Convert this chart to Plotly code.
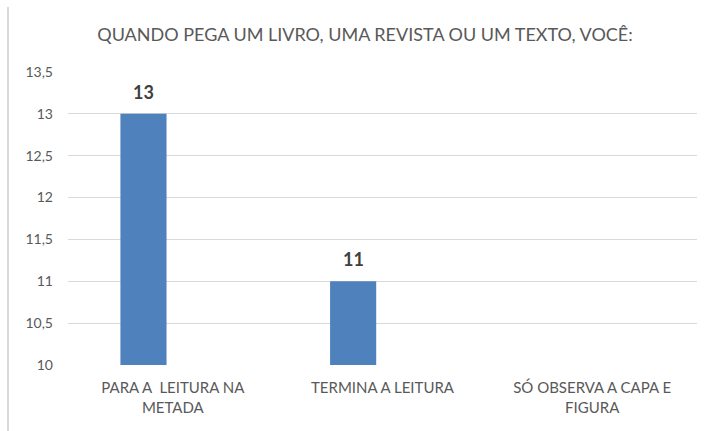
import plotly.graph_objects as go

title = "QUANDO PEGA UM LIVRO, UMA REVISTA OU UM TEXTO, VOCÊ:"
categories = ["PARA A  LEITURA NA METADA", "TERMINA A LEITURA", "SÓ OBSERVA A CAPA E FIGURA"]
category_labels = ["PARA A  LEITURA NA<br>METADA", "TERMINA A LEITURA", "SÓ OBSERVA A CAPA E<br>FIGURA"]
values = [13, 11, 6]
value_labels = ["13", "11", ""]
y_ticks = [10, 10.5, 11, 11.5, 12, 12.5, 13, 13.5]
y_tick_labels = ["10", "10,5", "11", "11,5", "12", "12,5", "13", "13,5"]

FONT = "Lato, Calibri, Carlito, sans-serif"

W, H = 708, 431
l, r, t, b = 68, 11, 72, 66
pw, ph = W - l - r, H - t - b
cat_w = pw / len(categories)

BAR_W = 0.22
BAR_OFF = -0.25

fig = go.Figure(
    go.Bar(
        x=categories,
        y=values,
        marker=dict(color="#4f81bd", line=dict(width=0)),
        width=BAR_W,
        offset=BAR_OFF,
        cliponaxis=True,
        hoverinfo="skip",
    )
)

for c, v, s in zip(categories, values, value_labels):
    if s:
        fig.add_annotation(
            x=c, y=v, text="<b>" + s + "</b>", showarrow=False,
            yanchor="bottom", yshift=9,
            xshift=(BAR_OFF + BAR_W / 2) * cat_w,
            font=dict(family=FONT, size=18, color="#404040"),
        )

bx = (8 - l) / pw
by = (H - b - 7) / ph
border = dict(color="#d9d9d9", width=2)

fig.update_layout(
    width=W,
    height=H,
    margin=dict(l=l, r=r, t=t, b=b, autoexpand=False),
    paper_bgcolor="white",
    plot_bgcolor="white",
    showlegend=False,
    separators=",.",
    font=dict(family=FONT, color="#595959"),
    title=dict(
        text=title,
        x=365 / W,
        xanchor="center",
        y=1 - 35 / H,
        yanchor="middle",
        font=dict(family=FONT, size=18, color="#595959"),
    ),
    xaxis=dict(
        tickmode="array",
        tickvals=categories,
        ticktext=category_labels,
        tickfont=dict(family=FONT, size=15, color="#595959"),
        showgrid=False,
        showline=False,
        ticks="",
        ticklabelstandoff=12,
        automargin=False,
        fixedrange=True,
    ),
    yaxis=dict(
        range=[10, 13.5],
        tickmode="array",
        tickvals=y_ticks,
        ticktext=y_tick_labels,
        tickfont=dict(family=FONT, size=14, color="#595959"),
        showgrid=True,
        gridcolor="#d9d9d9",
        gridwidth=1,
        zeroline=False,
        showline=False,
        ticks="",
        ticklabelstandoff=14,
        automargin=False,
    ),
    shapes=[
        dict(type="line", xref="paper", yref="paper",
             x0=bx, x1=bx, y0=-2, y1=by, line=border, layer="above"),
    ],
)

fig.write_html(
    "out.html",
    config={"displayModeBar": False},
    post_script="document.body.style.margin='0';document.body.style.overflow='hidden';",
)
